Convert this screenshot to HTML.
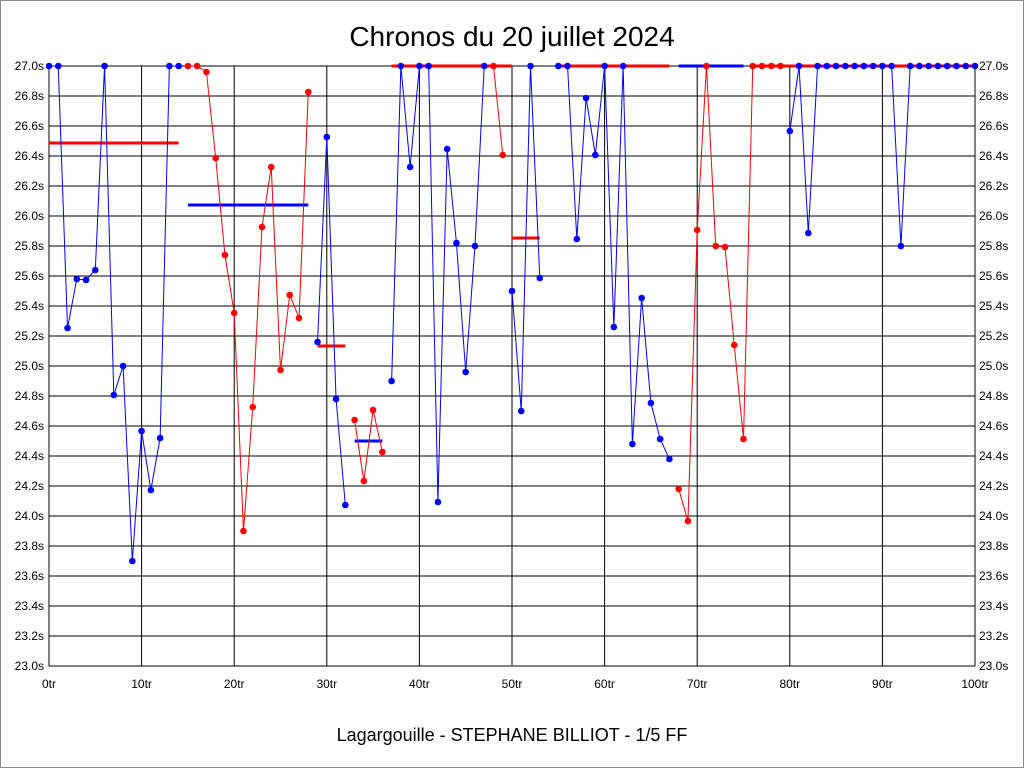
<!DOCTYPE html><html><head><style>body{margin:0;background:#fff}svg{display:block;font-family:"Liberation Sans",sans-serif}</style></head><body>
<svg id="s" width="1024" height="768" xmlns="http://www.w3.org/2000/svg">
<rect x="0.5" y="0.5" width="1023" height="767" fill="#fff" stroke="#888"/>
<text x="512" y="46" font-size="28" text-anchor="middle">Chronos du 20 juillet 2024</text>
<text x="512" y="741" font-size="18" text-anchor="middle">Lagargouille - STEPHANE BILLIOT - 1/5 FF</text>
<g id="g"></g>
</svg>
<script>
var g=document.getElementById('g'),h='';
function X(i){return 49+i*9.26}
for(var k=0;k<=20;k++){var y=66+k*30,v=(27-k*0.2).toFixed(1);
h+='<line x1="49" x2="975" y1="'+y+'" y2="'+y+'" stroke="#000"/>';
h+='<text x="44" y="'+(y+4)+'" font-size="12" text-anchor="end">'+v+'s</text>';
h+='<text x="979" y="'+(y+4)+'" font-size="12">'+v+'s</text>';}
for(var k=0;k<=10;k++){var x=X(k*10);h+='<line x1="'+x+'" x2="'+x+'" y1="66" y2="666" stroke="#000"/>';
h+='<text x="'+x+'" y="688" font-size="12" text-anchor="middle">'+(k*10)+'tr</text>';}
var T=66;
var segs=[['b',0,[T,T,328,279,280,270,T,395,366,561,431,490,438,T,T]],
['r',15,[T,T,72,158,255,313,531,407,227,167,370,295,318,92]],
['b',29,[342,137,399,505]],
['r',33,[420,481,410,452]],
['b',37,[381,T,167,T,T,502,149,243,372,246,T]],
['r',48,[T,155]],
['b',50,[291,411,T,278]],
['b',55,[T,T,239,98,155,T,327,T,444,298,403,439,459]],
['r',68,[489,521,230,T,246,247,345,439,T,T,T,T]],
['b',80,[131,T,233,T,T,T,T,T,T,T,T,T,246,T,T,T,T,T,T,T,T]]];
var av=[['r',0,14,143],['b',15,28,205],['r',29,32,346],['b',33,36,441],['r',37,50,66],['r',50,53,238],['r',55,67,66],['b',68,75,66],['r',76,100,66]];
av.forEach(function(a){h+='<line x1="'+X(a[1])+'" x2="'+X(a[2])+'" y1="'+a[3]+'" y2="'+a[3]+'" stroke="'+(a[0]=='r'?'#f00':'#00f')+'" stroke-width="3"/>'});
segs.forEach(function(s){var c=s[0]=='r'?'#f00':'#00f',p=s[2].map(function(y,j){return X(s[1]+j)+','+y}).join(' ');
h+='<polyline points="'+p+'" fill="none" stroke="'+c+'" stroke-width="1"/>';
s[2].forEach(function(y,j){h+='<circle cx="'+X(s[1]+j)+'" cy="'+y+'" r="3.3" fill="'+c+'"/>'})});
g.innerHTML=h;
</script></body></html>
